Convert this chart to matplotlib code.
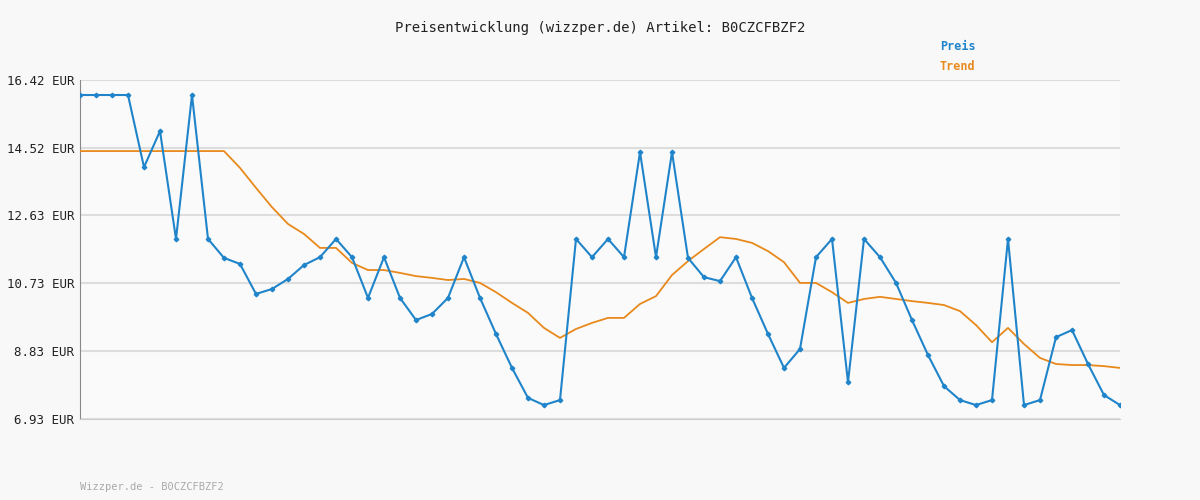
import matplotlib.pyplot as plt
import numpy as np

plt.rcParams["font.family"] = ["DejaVu Sans Mono"]

# price series (EUR)
preis = [16.00, 16.00, 16.00, 16.00, 13.98, 14.99, 11.97, 16.00, 11.97, 11.44,
         11.27, 10.43, 10.57, 10.85, 11.24, 11.46, 11.97, 11.46, 10.32, 11.46,
         10.32, 9.70, 9.87, 10.32, 11.46, 10.32, 9.31, 8.36, 7.52, 7.32,
         7.46, 11.97, 11.46, 11.97, 11.46, 14.40, 11.46, 14.40, 11.44, 10.90,
         10.79, 11.46, 10.32, 9.31, 8.36, 8.89, 11.46, 11.97, 7.96, 11.97,
         11.46, 10.74, 9.70, 8.72, 7.85, 7.46, 7.32, 7.46, 11.97, 7.32,
         7.46, 9.22, 9.42, 8.47, 7.60, 7.32]
trend = [14.43, 14.43, 14.43, 14.43, 14.43, 14.43, 14.43, 14.43, 14.43, 14.43,
         13.96, 13.40, 12.86, 12.39, 12.11, 11.72, 11.72, 11.30, 11.10, 11.10,
         11.02, 10.93, 10.88, 10.82, 10.85, 10.74, 10.48, 10.18, 9.90, 9.48,
         9.20, 9.45, 9.62, 9.76, 9.76, 10.15, 10.37, 10.96, 11.35, 11.69,
         12.02, 11.97, 11.86, 11.63, 11.32, 10.74, 10.74, 10.48, 10.18, 10.29,
         10.35, 10.29, 10.23, 10.18, 10.12, 9.95, 9.56, 9.08, 9.48, 9.03,
         8.64, 8.47, 8.44, 8.44, 8.41, 8.36]
yticks = [6.93, 8.83, 10.73, 12.63, 14.52, 16.42]

x = np.arange(len(preis))

fig = plt.figure(figsize=(12, 5), dpi=100, facecolor="#f8f8f8")
ax = fig.add_axes([80 / 1200, 1 - 419 / 500, 1040 / 1200, 339 / 500])
ax.set_facecolor("#fafafa")

ax.plot(x, trend, color="#e8891c", lw=1.3, zorder=3)
ax.plot(x, preis, color="#1f84c9", lw=1.5, marker="D", ms=2.3, zorder=4)

ax.set_xlim(0, len(preis) - 1)
ax.set_ylim(yticks[0], yticks[-1])
ax.set_yticks(yticks)
ax.set_yticklabels([f"{v:.2f} EUR" for v in yticks], fontsize=9, color="#222222")
ax.set_xticks([])
ax.grid(axis="y", color="#dddddd", lw=1.5)
ax.tick_params(axis="y", length=0, pad=4)
for s in ["top", "right"]:
    ax.spines[s].set_visible(False)
ax.spines["left"].set_color("#888888")
ax.spines["bottom"].set_color("#cccccc")

fig.text(0.5, 1 - 28 / 500, "Preisentwicklung (wizzper.de) Artikel: B0CZCFBZF2",
         ha="center", va="center", fontsize=10, color="#222222")
fig.text(940 / 1200, 1 - 47 / 500, "Preis", color="#1f84c9", fontsize=8.5,
         fontweight="bold", va="center")
fig.text(940 / 1200, 1 - 67 / 500, "Trend", color="#e8891c", fontsize=8.5,
         fontweight="bold", va="center")
fig.text(80 / 1200, 1 - 487 / 500, "Wizzper.de - B0CZCFBZF2", color="#aaaaaa",
         fontsize=7.5, va="center")

fig.savefig("out.png", dpi=100, facecolor=fig.get_facecolor())
